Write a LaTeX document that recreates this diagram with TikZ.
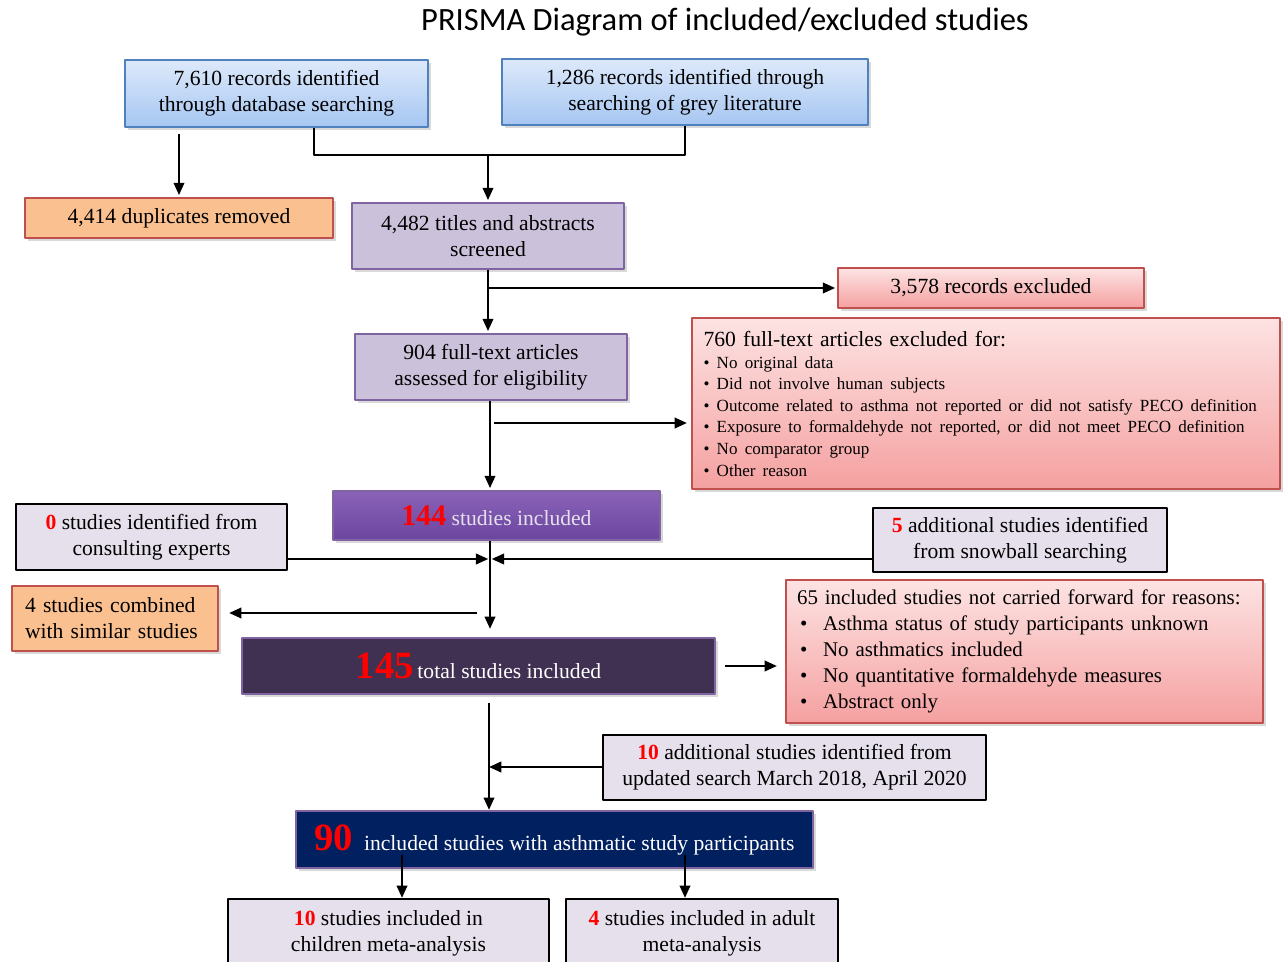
\documentclass[tikz,border=0pt]{standalone}
\usepackage{fontspec}
\setmainfont{Liberation Serif}
\newfontfamily\titlefont{Carlito}
\usetikzlibrary{arrows.meta,shadows}
\definecolor{bluebd}{HTML}{4F81BD}
\definecolor{bluetop}{HTML}{DDE9FA}
\definecolor{bluebot}{HTML}{A6C6F2}
\definecolor{orangefill}{HTML}{FAC090}
\definecolor{redbd}{HTML}{C0504D}
\definecolor{pinktop}{HTML}{FDE3E3}
\definecolor{pinkbot}{HTML}{F5A0A0}
\definecolor{lavfill}{HTML}{CCC1DA}
\definecolor{purplebd}{HTML}{8064A2}
\definecolor{palefill}{HTML}{E6E0EC}
\definecolor{violettop}{HTML}{8A63B8}
\definecolor{violetbot}{HTML}{6B459F}
\definecolor{darkplum}{HTML}{403152}
\definecolor{navyfill}{HTML}{002060}
\newcommand{\num}[1]{\textcolor{red}{\textbf{#1}}}
\newcommand{\bignum}[2]{\textcolor{red}{\textbf{\fontsize{#1}{#1}\selectfont #2}}}
\begin{document}
\begin{tikzpicture}[x=0.02cm,y=-0.02cm,>={Triangle[length=7pt,width=6pt]},
    line join=round,font=\fontsize{12.3}{14.7}\selectfont,
    shade/.style={drop shadow={shadow xshift=1.5pt,shadow yshift=-1.5pt,opacity=0.3}},
    bluebox/.style={draw=bluebd,line width=1.3pt,top color=bluetop,bottom color=bluebot,align=center,shade},
    orangebox/.style={draw=redbd,line width=1.3pt,fill=orangefill,align=center,shade},
    pinkbox/.style={draw=redbd,line width=1.3pt,top color=pinktop,bottom color=pinkbot,shade},
    lavbox/.style={draw=purplebd,line width=1.3pt,fill=lavfill,align=center,shade},
    palebox/.style={draw=black,line width=1.3pt,fill=palefill,align=center},
    darkbox/.style={draw=purplebd,line width=1.3pt,align=center,text=white,shade},
    flow/.style={line width=1.2pt}]
\useasboundingbox (0,0) rectangle (1285,962);
\node[font=\titlefont\fontsize{18.5}{22}\selectfont] (title) at (725,22) {PRISMA Diagram of included/excluded studies};
% identification
\node[bluebox,minimum width=6.06cm,minimum height=1.34cm] (db) at (276.5,93.5) {7,610 records identified\\through database searching};
\node[bluebox,minimum width=7.32cm,minimum height=1.32cm] (grey) at (685,92) {1,286 records identified through\\searching of grey literature};
\node[orangebox,minimum width=6.16cm,minimum height=0.8cm] (dup) at (179,218) {4,414 duplicates removed};
\node[lavbox,minimum width=5.44cm,minimum height=1.32cm] (scr) at (488,236) {4,482 titles and abstracts\\screened};
\node[pinkbox,align=center,minimum width=6.12cm,minimum height=0.8cm] (exA) at (991,288) {3,578 records excluded};
\node[lavbox,minimum width=5.44cm,minimum height=1.32cm] (ft) at (491,367) {904 full-text articles\\assessed for eligibility};
\node[pinkbox,align=left,text width=11.3cm,inner xsep=0.23cm,minimum height=3.42cm] (exB) at (986,403.5)
  {760 full-text articles excluded for:\\[0.5pt]
   {\fontsize{9.7}{12.25}\selectfont
   \textbullet\ No original data\\
   \textbullet\ Did not involve human subjects\\
   \textbullet\ Outcome related to asthma not reported or did not satisfy PECO definition\\
   \textbullet\ Exposure to formaldehyde not reported, or did not meet PECO definition\\
   \textbullet\ No comparator group\\
   \textbullet\ Other reason\par}};
% inclusion
\node[darkbox,top color=violettop,bottom color=violetbot,text=palefill,minimum width=6.54cm,minimum height=0.98cm] (s144) at (496.5,515.5) {\bignum{17}{144} studies included};
\node[palebox,minimum width=5.42cm,minimum height=1.32cm] (exp) at (151.5,537) {\num{0} studies identified from\\consulting experts};
\node[palebox,minimum width=5.88cm,minimum height=1.28cm] (snow) at (1020,540) {\num{5} additional studies identified\\from snowball searching};
\node[orangebox,align=left,text width=3.6cm,inner xsep=0.26cm,minimum height=1.3cm] (comb) at (115,618.5) {4 studies combined\\with similar studies};
\node[darkbox,fill=darkplum,minimum width=9.46cm,minimum height=1.12cm] (tot) at (478.5,666) {\bignum{22}{145}\,total studies included};
\node[pinkbox,align=left,text width=9.1cm,inner xsep=0.22cm,minimum height=2.86cm,font=\fontsize{11.9}{14.7}\selectfont] (rsn) at (1024.5,651.5)
  {65 included studies not carried forward for reasons:\\
   \makebox[0.52cm][l]{\hspace{0.06cm}\textbullet}Asthma status of study participants unknown\\
   \makebox[0.52cm][l]{\hspace{0.06cm}\textbullet}No asthmatics included\\
   \makebox[0.52cm][l]{\hspace{0.06cm}\textbullet}No quantitative formaldehyde measures\\
   \makebox[0.52cm][l]{\hspace{0.06cm}\textbullet}Abstract only};
\node[palebox,minimum width=7.66cm,minimum height=1.3cm] (upd) at (794.5,767.5) {\num{10} additional studies identified from\\updated search March 2018, April 2020};
\node[darkbox,fill=navyfill,minimum width=10.34cm,minimum height=1.14cm] (s90) at (554.5,839.5) {\bignum{22}{90}\ \ included studies with asthmatic study participants};
\node[palebox,minimum width=6.42cm,minimum height=1.36cm] (child) at (388.5,933) {\num{10} studies included in\\children meta-analysis};
\node[palebox,minimum width=5.44cm,minimum height=1.36cm] (adult) at (702,933) {\num{4} studies included in adult\\meta-analysis};
% connectors
\coordinate (m1) at (488,155);
\coordinate (b760) at (494,423);
\coordinate (jn) at (490,559);
\coordinate (cb) at (477,613);
\coordinate (jn2) at (489,767);
\coordinate (c1) at (402,855);
\coordinate (c2) at (685,855);
\draw[flow,->,shorten <=0.12cm,shorten >=1pt] (db.south -| dup.north) -- (dup.north);
\draw[flow] ([xshift=0.75cm]db.south) |- (m1) -| (grey.south);
\draw[flow,->,shorten >=1pt] (m1) -- (scr.north);
\draw[flow,->,shorten >=1pt] (scr.south) -- (scr.south |- ft.north);
\draw[flow,->,shorten >=1pt] (scr.south |- exA.west) -- (exA.west);
\draw[flow,->,shorten >=1pt] (ft.south -| jn) -- (jn |- s144.north);
\draw[flow,->,shorten >=0.08cm] (b760) -- (b760 -| exB.west);
\draw[flow] (s144.south -| jn) -- (jn);
\draw[flow,->,shorten >=0.16cm] (jn) -- (jn |- tot.north);
\draw[flow,->,shorten >=1pt] (exp.east |- jn) -- (jn);
\draw[flow,->,shorten >=1pt] (snow.west |- jn) -- (jn);
\draw[flow,->,shorten >=0.2cm] (cb) -- (cb -| comb.east);
\draw[flow,->,shorten <=0.18cm,shorten >=0.16cm] (tot.east) -- (tot.east -| rsn.west);
\draw[flow,->,shorten <=0.16cm] (tot.south -| jn2) -- (jn2 |- s90.north);
\draw[flow,->] (upd.west |- jn2) -- (jn2);
\draw[flow,->] (c1) -- (c1 |- child.north);
\draw[flow,->] (c2) -- (c2 |- adult.north);
\end{tikzpicture}
\end{document}
